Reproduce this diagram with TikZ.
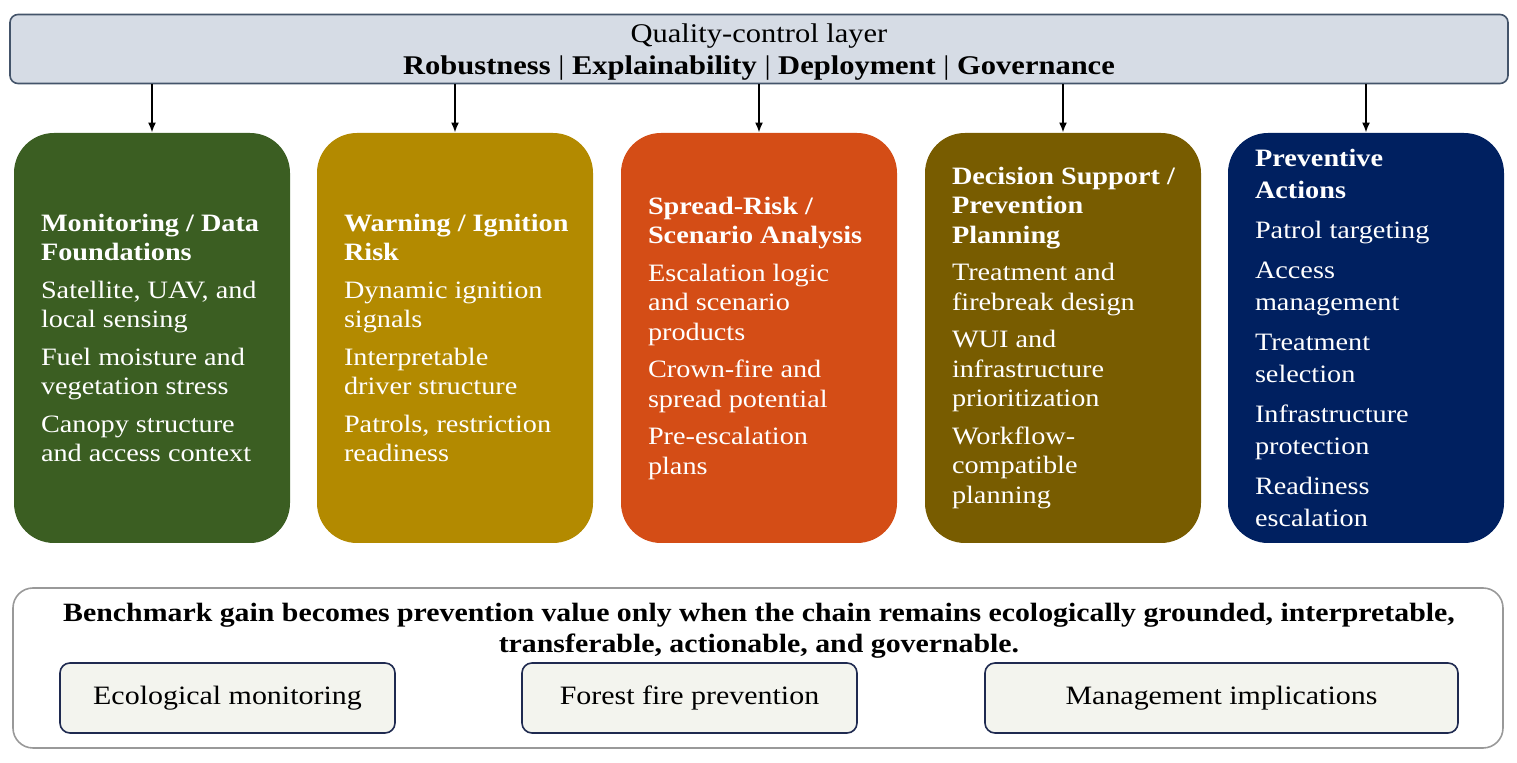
\documentclass[tikz,border=0pt]{standalone}
\usepackage{fontspec}
\setmainfont{Liberation Serif}[FakeStretch=1.13]
\usetikzlibrary{arrows.meta}
\definecolor{qc-fill}{RGB}{214,220,229}
\definecolor{qc-line}{RGB}{68,84,106}
\definecolor{stage-green}{RGB}{59,94,34}
\definecolor{stage-gold}{RGB}{179,138,0}
\definecolor{stage-orange}{RGB}{212,77,22}
\definecolor{stage-olive}{RGB}{120,92,0}
\definecolor{stage-navy}{RGB}{0,32,96}
\definecolor{out-fill}{RGB}{243,244,238}
\definecolor{out-line}{RGB}{31,42,80}
\tikzstyle{layerbar}=[draw=qc-line,fill=qc-fill,line width=0.8pt,rounded corners=4pt,minimum width=749pt,minimum height=34.5pt]
\tikzstyle{layertext}=[align=center,font=\fontsize{13.5pt}{16pt}\selectfont]
\tikzstyle{stagebox}=[rounded corners=20pt,minimum width=138pt,minimum height=205pt]
\tikzstyle{stagetext}=[anchor=west,align=left,text=white,inner sep=0pt]
\tikzstyle{feed}=[line width=0.9pt,-{Latex[length=5pt,width=4pt]}]
\tikzstyle{notebox}=[draw=gray!80,line width=0.8pt,rounded corners=10pt,minimum width=745pt,minimum height=80pt]
\tikzstyle{outcome}=[draw=out-line,fill=out-fill,line width=0.8pt,rounded corners=5pt,minimum height=35pt,font=\fontsize{13.25pt}{15.5pt}\selectfont]
\newcommand{\gap}{\\[4pt]}
\newcommand{\stage}[5][]{% [text options] name, colour, x, text
  \node[stagebox,fill=#3] (#2) at (#4,338) {};
  \node[stagetext,#1] (#2t) at ([xshift=13.5pt]#2.west) {#5};
  \draw[feed] (qc.south -| #2.north) -- (#2.north);
}
\begin{document}
\begin{tikzpicture}[x=0.5pt,y=-0.5pt,font=\fontsize{12.5pt}{14.75pt}\selectfont]
\useasboundingbox (0,0) rectangle (1517,763);
\node[layerbar] (qc) at (759,49) {};
\node[layertext] (qct) at (759,52) {Quality-control layer\\
  \textbf{Robustness} | \textbf{Explainability} | \textbf{Deployment} | \textbf{Governance}};
% five stages of the chain
\stage{mon}{stage-green}{152}{\textbf{Monitoring / Data}\\\textbf{Foundations}\gap
  Satellite, UAV, and\\local sensing\gap Fuel moisture and\\vegetation stress\gap
  Canopy structure\\and access context}
\stage{warn}{stage-gold}{455}{\textbf{Warning / Ignition}\\\textbf{Risk}\gap
  Dynamic ignition\\signals\gap Interpretable\\driver structure\gap
  Patrols, restriction\\readiness}
\stage{spread}{stage-orange}{759}{\textbf{Spread-Risk /}\\\textbf{Scenario Analysis}\gap
  Escalation logic\\and scenario\\products\gap Crown-fire and\\spread potential\gap
  Pre-escalation\\plans}
\stage{plan}{stage-olive}{1063}{\textbf{Decision Support /}\\\textbf{Prevention}\\\textbf{Planning}\gap
  Treatment and\\firebreak design\gap WUI and\\infrastructure\\prioritization\gap
  Workflow-\\compatible\\planning}
\stage[font=\fontsize{12.5pt}{16pt}\selectfont]{act}{stage-navy}{1366}{\textbf{Preventive}\\\textbf{Actions}\gap
  Patrol targeting\gap Access\\management\gap Treatment\\selection\gap
  Infrastructure\\protection\gap Readiness\\escalation}
% bottom message
\node[notebox] (note) at (758,668) {};
\node[align=center,font=\fontsize{13.2pt}{15.25pt}\selectfont\bfseries] (msg) at (759,631)
  {Benchmark gain becomes prevention value only when the chain remains ecologically grounded, interpretable,\\
   transferable, actionable, and governable.};
\node[outcome,minimum width=167.5pt] (eco) at (227.5,698) {Ecological monitoring};
\node[outcome,minimum width=167.5pt] (fire) at (689.5,698) {Forest fire prevention};
\node[outcome,minimum width=236.5pt] (mgmt) at (1221.5,698) {Management implications};
\end{tikzpicture}
\end{document}
